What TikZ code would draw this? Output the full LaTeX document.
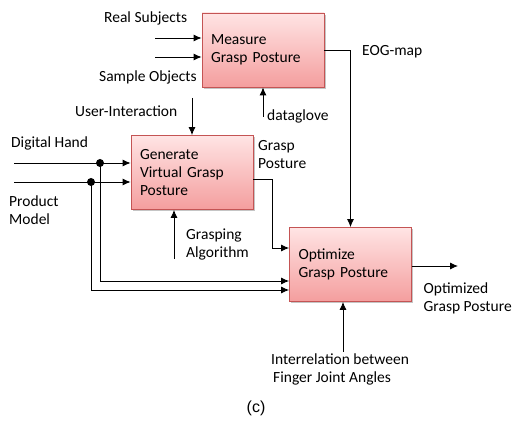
\documentclass[tikz,border=0pt]{standalone}
\usepackage{fontspec}
\setmainfont{Carlito}
\newfontfamily\captionfont{Liberation Sans}
\usetikzlibrary{arrows.meta,shadows}
\definecolor{boxtop}{RGB}{255,228,228}
\definecolor{boxbot}{RGB}{244,158,158}
\definecolor{boxedge}{RGB}{196,84,84}
\begin{document}
\begin{tikzpicture}[x=1pt,y=-1pt,
  font=\fontsize{15.5}{18}\selectfont,
  procbox/.style={draw=boxedge, line width=0.8pt, top color=boxtop, bottom color=boxbot,
    drop shadow={shadow xshift=1.5pt, shadow yshift=-1.8pt, fill=black!45, opacity=0.5},
    text width=104pt, inner xsep=9pt, minimum height=74pt, align=left},
  lbl/.style={inner sep=0pt, align=left},
  arr/.style={line width=0.9pt, -{Latex[length=8pt,width=7pt]}},
  ln/.style={line width=0.9pt},
  joint/.style={circle, fill=black, inner sep=0pt, minimum size=8pt}]
\useasboundingbox (0,0) rectangle (512,422);

% process boxes
\node[procbox] (measure) at (263,50) {Measure\\Grasp Posture};
\node[procbox] (generate) at (192,172.5) {Generate\\Virtual Grasp\\Posture};
\node[procbox] (optimize) at (350.5,264.5) {Optimize\\Grasp Posture};

% inputs of the measuring step
\coordinate (rs) at (155,38);
\coordinate (so) at (155,57);
\draw[arr] (rs) -- (rs -| measure.west);
\draw[arr] (so) -- (so -| measure.west);
\node[lbl, anchor=west] (realsubj) at (104,18) {Real Subjects};
\node[lbl, anchor=west] (sampobj) at (99,77) {Sample Objects};

\coordinate (dg) at (263,117);
\draw[arr] (dg) -- (measure.south);
\node[lbl, anchor=west] (dataglove) at (267,116) {dataglove};

% EOG-map into the optimisation
\draw[arr] (measure.east) -| (optimize.north);
\node[lbl, anchor=west] (eog) at (362,52) {EOG-map};

% inputs of the generating step
\coordinate (ui) at (192,98);
\draw[arr] (ui) -- (generate.north);
\node[lbl, anchor=west] (userint) at (75,111) {User-Interaction};

\coordinate (dh) at (14,163);
\coordinate (pm) at (14,182);
\draw[arr] (dh) -- (dh -| generate.west);
\draw[arr] (pm) -- (pm -| generate.west);
\node[lbl, anchor=west] (dighand) at (11,143) {Digital Hand};
\node[lbl, anchor=west] (prodmod) at (9,210.5) {Product\\Model};

\node[joint] (j1) at (100,163) {};
\node[joint] (j2) at (91,182) {};
\coordinate (b1) at (100,281);
\coordinate (b2) at (91,290);
\draw[ln] (j1.center) -- (b1);
\draw[arr] (b1) -- (b1 -| optimize.west);
\draw[ln] (j2.center) -- (b2);
\draw[arr] (b2) -- (b2 -| optimize.west);

\coordinate (ga) at (174,259);
\draw[arr] (ga) -- (ga |- generate.south);
\node[lbl, anchor=west] (graspalg) at (186,244.5) {Grasping\\Algorithm};

% generated posture into the optimisation
\coordinate (gp0) at (253.4,179);
\coordinate (gp1) at (272,179);
\coordinate (gp2) at (272,248);
\draw[ln] (gp0) -- (gp1) -- (gp2);
\draw[arr] (gp2) -- (gp2 -| optimize.west);
\node[lbl, anchor=west] (graspout) at (258,154.5) {Grasp\\Posture};

% output and constraint of the optimisation
\coordinate (out) at (458,266);
\draw[arr] (out -| optimize.east) -- (out);
\node[lbl, anchor=west] (optout) at (423.5,298.5) {Optimized\\Grasp Posture};

\coordinate (ia) at (343,352);
\draw[arr] (ia) -- (ia |- optimize.south);
\node[lbl, anchor=west] (interrel) at (271,369.5) {Interrelation between\\\hspace*{2pt}Finger Joint Angles};

\node[inner sep=0pt, font=\captionfont\fontsize{16}{18}\selectfont] (cap) at (256,408) {(c)};
\end{tikzpicture}
\end{document}
